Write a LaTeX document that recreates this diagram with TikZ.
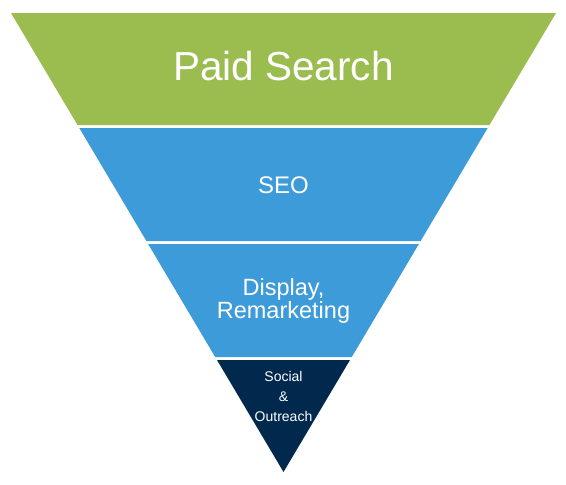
\documentclass[tikz,border=0pt]{standalone}
\usepackage{fontspec}
\setmainfont{Liberation Sans}
\definecolor{paidgreen}{HTML}{9BBD50}
\definecolor{funnelblue}{HTML}{3E9BD9}
\definecolor{socialnavy}{HTML}{00294D}
\tikzset{
  layertext/.style={text=white, align=center, inner sep=0pt}
}
\begin{document}
\begin{tikzpicture}[x=1pt, y=-1pt]
    \useasboundingbox (0, 0) rectangle (566, 485);

    % Paid search layer
    \fill [paidgreen] (11, 13) -- (556, 13) -- (489.5, 125) -- (77.5, 125) -- cycle;
    \node [layertext, anchor=base, font=\fontsize{40.5}{48}\selectfont]
          (paid) at (283.5, 80) {Paid Search};

    % SEO layer
    \fill [funnelblue] (79.3, 128) -- (487.7, 128) -- (420.6, 241) -- (146.4, 241) -- cycle;
    \node [layertext, anchor=base, font=\fontsize{24}{28}\selectfont]
          (seo) at (283.5, 193) {SEO};

    % Display layer
    \fill [funnelblue] (148.1, 244) -- (418.9, 244) -- (351.8, 357) -- (215.2, 357) -- cycle;
    \node [layertext, font=\fontsize{23.5}{23.5}\selectfont]
          (display) at (283.5, 301) {Display,\\Remarketing};

    % Social layer
    \fill [socialnavy] (217, 360) -- (350, 360) -- (283.5, 472) -- cycle;
    \node [layertext, font=\fontsize{14}{20}\selectfont]
          (social) at (283.5, 396) {Social\\\&\\Outreach};

\end{tikzpicture}
\end{document}
